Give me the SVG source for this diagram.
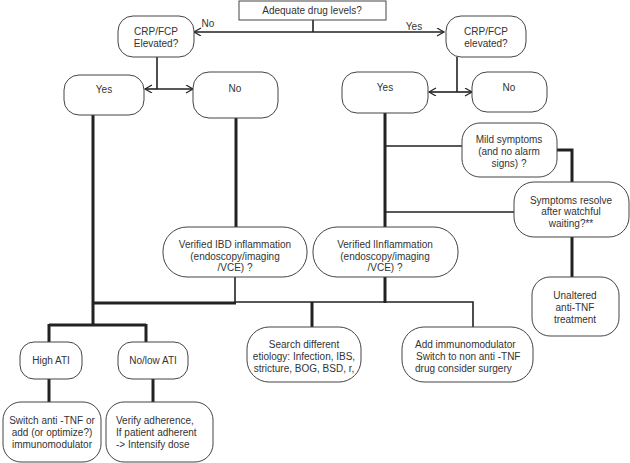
<svg xmlns="http://www.w3.org/2000/svg" width="630" height="463" viewBox="0 0 630 463">
<defs>
<marker id="arr" markerWidth="10" markerHeight="10" refX="8" refY="4" orient="auto" markerUnits="userSpaceOnUse">
<path d="M1,0 L8,4 L1,8" fill="none" stroke="#222" stroke-width="1.2"/>
</marker>
</defs>
<style>
.n{fill:#fff;stroke:#444;stroke-width:1}
.t{font-family:"Liberation Sans",Arial,sans-serif;font-size:10px;fill:#333;text-anchor:middle}
.tl{font-family:"Liberation Sans",Arial,sans-serif;font-size:10px;fill:#333;text-anchor:start}
.c{fill:none;stroke:#222;stroke-width:1.6}
.k{fill:none;stroke:#222;stroke-width:3}
</style>
<rect width="630" height="463" fill="#fff"/>
<g id="connectors">
<path class="c" d="M313,20 V32"/>
<path class="c" d="M313,32 H194" marker-end="url(#arr)"/>
<path class="c" d="M313,32 H444" marker-end="url(#arr)"/>
<path class="c" d="M157,57 V89"/>
<path class="c" d="M157,89 H145" marker-end="url(#arr)"/>
<path class="c" d="M157,89 H193" marker-end="url(#arr)"/>
<path class="c" d="M457,57 V92"/>
<path class="c" d="M457,92 H429" marker-end="url(#arr)"/>
<path class="c" d="M457,92 H472" marker-end="url(#arr)"/>
<path class="k" d="M93,115 V303"/>
<path class="k" d="M236,118 V227"/>
<path class="c" d="M235,277 V303"/>
<path class="k" d="M92,303 H236"/>
<path class="c" d="M236,302 H473 V327"/>
<path class="k" d="M312,302 V327"/>
<path class="k" d="M385,113 V227"/>
<path class="k" d="M385,277 V303"/>
<path class="c" d="M385,146 H462"/>
<path class="c" d="M385,212 H514"/>
<path class="k" d="M557,150 H572 V182"/>
<path class="k" d="M572,237 V277"/>
<path class="k" d="M93,303 V325 M49,325 H146 M49,324 V342 M146,324 V342"/>
<path class="k" d="M49,379 V402"/>
<path class="k" d="M153,379 V402"/>
</g>
<g id="adequate"><rect class="n" x="239" y="1" width="147" height="19"/><text class="t" x="312" y="14">Adequate drug levels?</text></g>
<text class="t" x="208" y="27">No</text>
<text class="t" x="414" y="30">Yes</text>
<g id="crp-left"><rect class="n" x="118" y="16" width="76" height="41" rx="15"/><text class="t" x="156" y="35">CRP/FCP</text><text class="t" x="156" y="47">Elevated?</text></g>
<g id="crp-right"><rect class="n" x="446" y="16" width="80" height="41" rx="15"/><text class="t" x="486" y="35">CRP/FCP</text><text class="t" x="486" y="47">elevated?</text></g>
<g id="yes-left"><rect class="n" x="64" y="75" width="80" height="40" rx="15"/><text class="t" x="104" y="93">Yes</text></g>
<g id="no-left"><rect class="n" x="193" y="72" width="85" height="46" rx="16"/><text class="t" x="235" y="92">No</text></g>
<g id="yes-right"><rect class="n" x="342" y="72" width="86" height="41" rx="15"/><text class="t" x="385" y="91">Yes</text></g>
<g id="no-right"><rect class="n" x="472" y="72" width="75" height="40" rx="15"/><text class="t" x="509" y="91">No</text></g>
<g id="verified-ibd"><rect class="n" x="163" y="227" width="144" height="50" rx="24"/><text class="t" x="235" y="248">Verified IBD inflammation</text><text class="t" x="235" y="260">(endoscopy/imaging</text><text class="t" x="235" y="271">/VCE) ?</text></g>
<g id="verified-infl"><rect class="n" x="313" y="227" width="145" height="50" rx="24"/><text class="t" x="385" y="248">Verified lInflammation</text><text class="t" x="385" y="260">(endoscopy/imaging</text><text class="t" x="385" y="271">/VCE) ?</text></g>
<g id="mild"><rect class="n" x="462" y="123" width="95" height="54" rx="18"/><text class="t" x="509" y="143">Mild symptoms</text><text class="t" x="509" y="155">(and no alarm</text><text class="t" x="509" y="167">signs) ?</text></g>
<g id="resolve"><rect class="n" x="514" y="182" width="115" height="55" rx="20"/><text class="t" x="571" y="204">Symptoms resolve</text><text class="t" x="571" y="215">after watchful</text><text class="t" x="571" y="227">waiting?**</text></g>
<g id="unaltered"><rect class="n" x="532" y="277" width="87" height="59" rx="18"/><text class="t" x="575" y="299">Unaltered</text><text class="t" x="575" y="311">anti-TNF</text><text class="t" x="575" y="323">treatment</text></g>
<g id="high-ati"><rect class="n" x="20" y="342" width="62" height="37" rx="14"/><text class="t" x="51" y="364">High ATI</text></g>
<g id="low-ati"><rect class="n" x="118" y="342" width="70" height="37" rx="14"/><text class="t" x="153" y="364">No/low ATI</text></g>
<g id="switch"><rect class="n" x="3" y="402" width="98" height="60" rx="18"/><text class="t" x="52" y="424">Switch anti -TNF or</text><text class="t" x="52" y="436">add (or optimize?)</text><text class="t" x="52" y="448">immunomodulator</text></g>
<g id="verify"><rect class="n" x="106" y="402" width="107" height="60" rx="18"/><text class="tl" x="116" y="424">Verify adherence,</text><text class="tl" x="116" y="436">If patient adherent</text><text class="tl" x="116" y="448">-&gt; Intensify dose</text></g>
<g id="search"><rect class="n" x="247" y="327" width="114" height="55" rx="22"/><text class="t" x="304" y="348">Search different</text><text class="t" x="304" y="360">etiology: Infection, IBS,</text><text class="t" x="304" y="372">stricture, BOG, BSD, r,</text></g>
<g id="add"><rect class="n" x="402" y="327" width="131" height="55" rx="22"/><text class="tl" x="415" y="348">Add immunomodulator</text><text class="tl" x="416" y="360">Switch to non anti -TNF</text><text class="tl" x="415" y="372">drug consider surgery</text></g>
</svg>
